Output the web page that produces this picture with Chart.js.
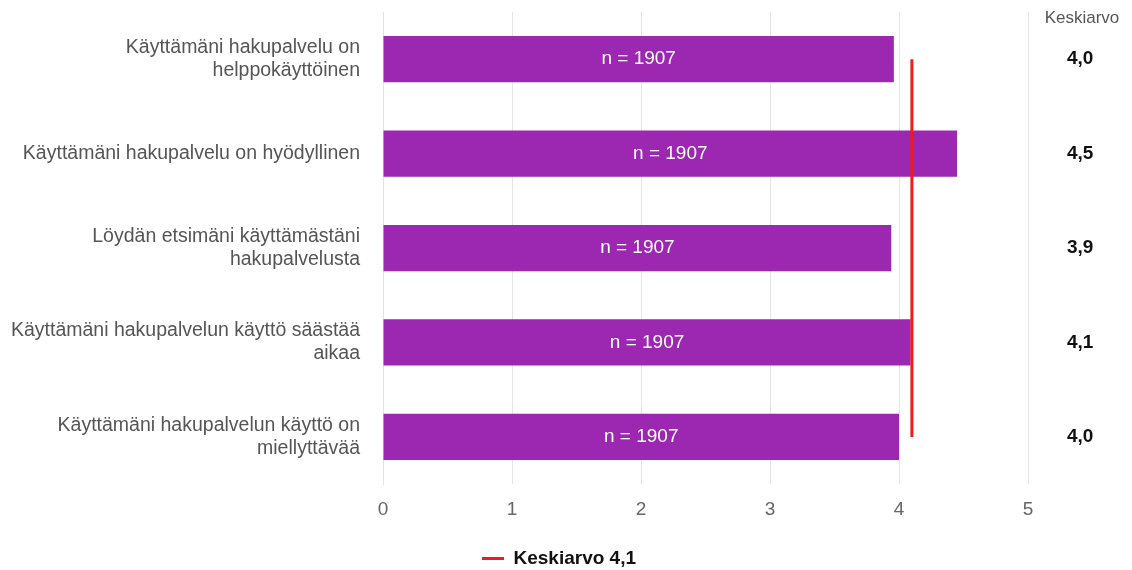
<!DOCTYPE html>
<html>
<head>
<meta charset="utf-8">
<script src="https://cdn.jsdelivr.net/npm/chart.js@4/dist/chart.umd.min.js"></script>
<style>
  html, body { margin: 0; padding: 0; background: #fff; }
  #wrap { width: 1132px; height: 570px; }
</style>
</head>
<body>
<div id="wrap"><canvas id="chMeans"></canvas></div>
<script>
// chart data
var statements = [
  ['Käyttämäni hakupalvelu on', 'helppokäyttöinen'],
  'Käyttämäni hakupalvelu on hyödyllinen',
  ['Löydän etsimäni käyttämästäni', 'hakupalvelusta'],
  ['Käyttämäni hakupalvelun käyttö säästää', 'aikaa'],
  ['Käyttämäni hakupalvelun käyttö on', 'miellyttävää']
];
var means = [3.96, 4.45, 3.94, 4.09, 4.0];
var meanLabels = ['4,0', '4,5', '3,9', '4,1', '4,0'];
var counts = [1907, 1907, 1907, 1907, 1907];
var overallMean = [4.1, 4.1, 4.1, 4.1, 4.1];
var overallLabel = 'Keskiarvo 4,1';
var columnTitle = 'Keskiarvo';

// colors
var purple = '#9c27b0';
var red = '#ee1c1c';
var font = '"Liberation Sans", Arial, sans-serif';

// n = ... inside bars, column header on the right
var extrasPlugin = {
  id: 'extras',
  afterLayout: function(chart) {
    // legend sits a bit left of the canvas centre
    chart.legend.left -= 7;
    chart.legend.right -= 7;
  },
  afterDatasetsDraw: function(chart) {
    var ctx = chart.ctx;
    var meta = chart.getDatasetMeta(1);
    ctx.save();
    ctx.font = '19px ' + font;
    ctx.fillStyle = '#ffffff';
    ctx.textAlign = 'center';
    ctx.textBaseline = 'middle';
    meta.data.forEach(function(bar, i) {
      ctx.fillText('n = ' + counts[i], (bar.x + bar.base) / 2, bar.y);
    });
    ctx.font = '17px ' + font;
    ctx.fillStyle = '#555555';
    ctx.fillText(columnTitle, 1082, 18);
    ctx.restore();
  }
};

// no label overhang padding on the category axes
function fixCategoryAxis(width) {
  return function(scale) {
    scale.width = width;
    scale.paddingTop = 0;
    scale.paddingBottom = 0;
  };
}

var chData = {
  labels: statements,
  datasets: [
    {
      type: 'line',
      label: overallLabel,
      indexAxis: 'y',
      data: overallMean,
      borderColor: red,
      backgroundColor: red,
      borderWidth: 3,
      pointRadius: 0,
      pointStyle: 'line',
      order: 0
    },
    {
      type: 'bar',
      label: 'Keskiarvo',
      data: means,
      backgroundColor: purple,
      borderWidth: 0,
      barPercentage: 0.98,
      categoryPercentage: 0.5,
      order: 1
    }
  ]
};

new Chart(document.getElementById('chMeans'), {
  type: 'bar',
  data: chData,
  plugins: [extrasPlugin],
  options: {
    indexAxis: 'y',
    responsive: true,
    maintainAspectRatio: false,
    animation: false,
    layout: { padding: { top: 12, left: 0, right: 0, bottom: -8 } },
    scales: {
      x: {
        min: 0,
        max: 5,
        ticks: { stepSize: 1, color: '#666', font: { family: font, size: 19, lineHeight: 1.31 }, padding: 13 },
        grid: { color: '#e4e4e4', drawTicks: false },
        border: { display: false }
      },
      y: {
        position: 'left',
        ticks: { color: '#555', font: { family: font, size: 19.5, lineHeight: 1.18 }, padding: 23 },
        grid: { display: false, drawTicks: false },
        border: { color: '#dce3ef' },
        afterFit: fixCategoryAxis(383)
      },
      y2: {
        type: 'category',
        labels: meanLabels,
        position: 'right',
        offset: true,
        ticks: { color: '#111', font: { family: font, size: 19, weight: 'bold' }, padding: 39 },
        grid: { display: false, drawTicks: false },
        border: { display: false },
        afterFit: fixCategoryAxis(104)
      }
    },
    plugins: {
      legend: {
        position: 'bottom',
        labels: {
          usePointStyle: true,
          pointStyleWidth: 22,
          color: '#111',
          font: { family: font, size: 19, weight: 'bold' },
          padding: 14,
          filter: function(item) { return item.datasetIndex === 0; }
        }
      },
      tooltip: { enabled: false }
    }
  }
});
</script>
</body>
</html>
